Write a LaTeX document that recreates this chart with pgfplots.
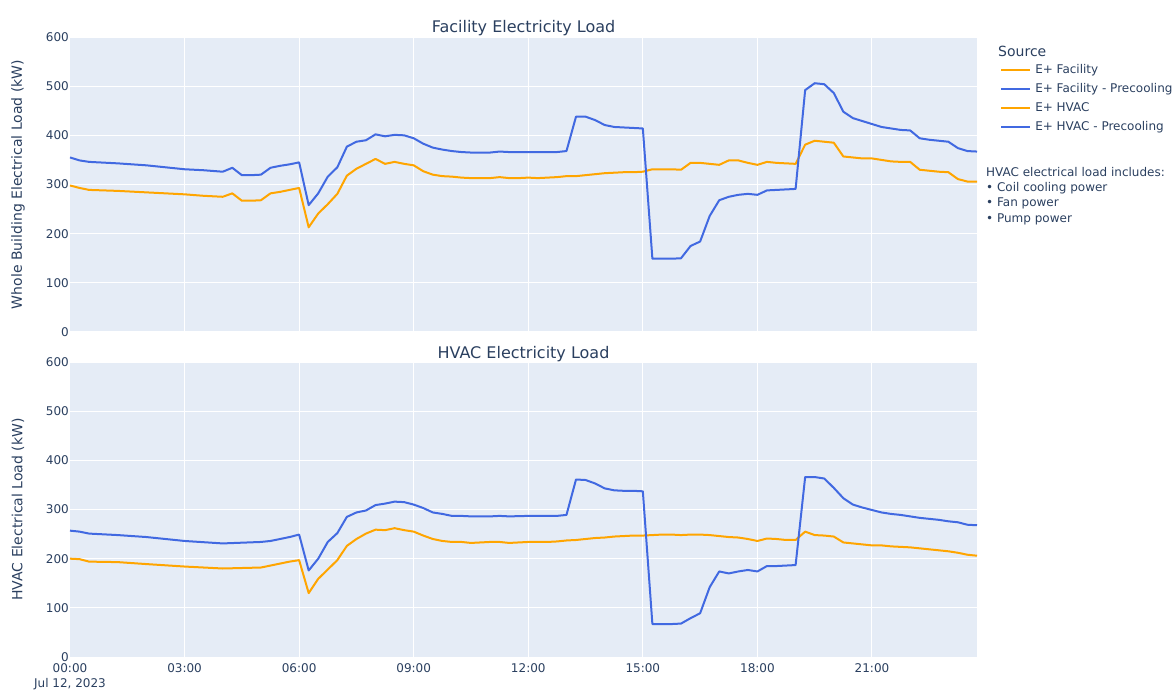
\documentclass[border=0pt]{standalone}
\usepackage{fontspec}
\setmainfont{DejaVu Sans}
\usepackage{pgfplots}
\pgfplotsset{compat=1.18}
\definecolor{bgc}{HTML}{E5ECF6}
\definecolor{txt}{HTML}{2A3F5F}
\definecolor{cor}{HTML}{FFA500}
\definecolor{cbl}{HTML}{4169E1}

\pgfplotstableread{
t v
0 298
0.25 293
0.5 289
1.25 287
2 284
3 280
3.5 277
4 275
4.25 282
4.5 267
4.75 267
5 268
5.25 282
5.5 285
5.75 289
6 293
6.25 213
6.5 241
6.75 260
7 281
7.25 318
7.5 332
7.75 342
8 352
8.25 342
8.5 346
8.75 342
9 339
9.25 327
9.5 320
9.75 317
10 316
10.25 314
10.5 313
10.75 313
11 313
11.25 315
11.5 313
11.75 313
12 314
12.25 313
12.5 314
12.75 315
13 317
13.25 317
13.5 319
13.75 321
14 323
14.25 324
14.5 325
14.75 325
15 326
15.25 331
15.5 331
15.75 331
16 330
16.25 344
16.5 344
16.75 342
17 340
17.25 349
17.5 349
17.75 344
18 340
18.25 346
18.5 344
18.75 343
19 342
19.25 381
19.5 389
19.75 387
20 385
20.25 357
20.5 355
20.75 353
21 353
21.25 350
21.5 347
21.75 346
22 346
22.25 330
22.5 328
22.75 326
23 325
23.25 311
23.5 306
23.75 306
}\facility

\pgfplotstableread{
t v
0 355
0.25 349
0.5 346
1.25 343
2 339
3 331
3.5 329
4 326
4.25 334
4.5 319
4.75 319
5 320
5.25 334
5.5 338
5.75 341
6 345
6.25 258
6.5 282
6.75 316
7 335
7.25 377
7.5 387
7.75 390
8 402
8.25 398
8.5 401
8.75 400
9 394
9.25 383
9.5 375
9.75 371
10 368
10.25 366
10.5 365
11 365
11.25 367
11.5 366
12 366
12.5 366
12.75 366
13 368
13.25 438
13.5 438
13.75 431
14 421
14.25 417
14.5 416
14.75 415
15 414
15.25 149
15.5 149
15.75 149
16 150
16.25 175
16.5 184
16.75 236
17 268
17.25 275
17.5 279
17.75 281
18 279
18.25 288
18.5 289
18.75 290
19 291
19.25 492
19.5 506
19.75 504
20 486
20.25 448
20.5 435
20.75 429
21 423
21.25 417
21.5 414
21.75 411
22 410
22.25 394
22.5 391
22.75 389
23 387
23.25 374
23.5 368
23.75 367
}\facilitypre

\pgfplotstableread{
t v
0 200
0.25 199
0.5 194
1.25 193
2 189
3 184
4 180
4.5 181
5 182
5.25 186
5.5 190
5.75 194
6 197
6.25 130
6.5 159
6.75 178
7 197
7.25 226
7.5 240
7.75 251
8 259
8.25 258
8.5 262
8.75 258
9 255
9.25 247
9.5 240
9.75 236
10 234
10.25 234
10.5 232
10.75 233
11 234
11.25 234
11.5 232
11.75 233
12 234
12.5 234
12.75 235
13 237
13.25 238
13.5 240
13.75 242
14 243
14.25 245
14.5 246
14.75 247
15 247
15.25 248
15.5 249
15.75 249
16 248
16.25 249
16.5 249
16.75 248
17 246
17.25 244
17.5 243
17.75 240
18 236
18.25 241
18.5 240
18.75 238
19 238
19.25 255
19.5 248
19.75 247
20 245
20.25 233
20.5 231
20.75 229
21 227
21.25 227
21.5 225
21.75 224
22 223
22.25 221
22.5 219
22.75 217
23 215
23.25 212
23.5 208
23.75 206
}\hvac

\pgfplotstableread{
t v
0 257
0.25 255
0.5 251
1.25 248
2 244
3 236
4 231
5 234
5.25 236
5.5 240
5.75 244
6 249
6.25 176
6.5 200
6.75 234
7 252
7.25 285
7.5 294
7.75 298
8 309
8.25 312
8.5 316
8.75 315
9 310
9.25 303
9.5 294
9.75 291
10 287
10.25 287
10.5 286
11 286
11.25 287
11.5 286
12 287
12.5 287
12.75 287
13 289
13.25 361
13.5 360
13.75 353
14 343
14.25 339
14.5 338
14.75 338
15 337
15.25 67
15.5 67
15.75 67
16 68
16.25 79
16.5 89
16.75 142
17 174
17.25 170
17.5 174
17.75 177
18 174
18.25 185
18.5 185
18.75 186
19 187
19.25 366
19.5 366
19.75 363
20 344
20.25 323
20.5 310
20.75 304
21 299
21.25 294
21.5 291
21.75 289
22 286
22.25 283
22.5 281
22.75 279
23 276
23.25 274
23.5 269
23.75 268
}\hvacpre

\pgfplotsset{plotlyax/.style={
  scale only axis, width=907pt, height=295pt,
  xmin=0, xmax=23.75, ymin=0, ymax=600,
  axis background/.style={fill=bgc},
  axis line style={draw=none},
  major tick length=0pt,
  grid=major, major grid style={white, line width=1pt},
  xtick={0,3,...,21}, ytick={0,100,...,600},
  /pgf/number format/assume math mode=true,
  tick label style={font=\fontsize{12}{15}\selectfont, text=txt},
  yticklabel style={inner sep=1pt},
  xticklabel style={yshift=-3pt},
  title style={at={(axis description cs:0.5,1)}, anchor=center, font=\fontsize{16}{19}\selectfont, text=txt},
  ylabel style={at={(axis description cs:-0.0573,0.5)}, anchor=center, font=\fontsize{14}{17}\selectfont, text=txt},
  clip mode=individual,
  legend image code/.code={\draw[#1, line width=2pt] (0pt,0pt) -- (29pt,0pt);},
}}

\begin{document}
\begin{tikzpicture}
\begin{axis}[plotlyax, at={(70pt,359pt)}, anchor=south west,
  xticklabels={},
  title={Facility Electricity Load}, title style={yshift=3pt},
  ylabel={Whole Building Electrical Load (kW)},
  legend style={at={(axis description cs:1.0254,0.915)}, anchor=north west, draw=none, fill=none, inner sep=0pt, row sep=3pt, column sep=2pt, font=\fontsize{12}{14}\selectfont, text=txt, nodes={inner sep=2pt, text height=9pt, text depth=3pt}},
  legend cell align=left]
\addplot[cor, line width=2pt, line join=round] table[x=t,y=v] {\facility};
\addlegendentry{E+ Facility}
\addplot[cbl, line width=2pt, line join=round] table[x=t,y=v] {\facilitypre};
\addlegendentry{E+ Facility - Precooling}
\addlegendimage{cor}
\addlegendentry{E+ HVAC}
\addlegendimage{cbl}
\addlegendentry{E+ HVAC - Precooling}
\node[anchor=base west, inner sep=0pt, text=txt, font=\fontsize{14}{17}\selectfont] at (axis description cs:1.0232,0.935) {Source};
\node[anchor=base west, inner sep=0pt, text=txt, font=\fontsize{12}{15}\selectfont] at (axis description cs:1.0099,0.527) {HVAC electrical load includes:};
\node[anchor=base west, inner sep=0pt, text=txt, font=\fontsize{12}{15}\selectfont] at (axis description cs:1.0099,0.475) {• Coil cooling power};
\node[anchor=base west, inner sep=0pt, text=txt, font=\fontsize{12}{15}\selectfont] at (axis description cs:1.0099,0.424) {• Fan power};
\node[anchor=base west, inner sep=0pt, text=txt, font=\fontsize{12}{15}\selectfont] at (axis description cs:1.0099,0.372) {• Pump power};
\end{axis}
\begin{axis}[plotlyax, at={(70pt,34pt)}, anchor=south west,
  xticklabels={{00:00\\Jul 12, 2023},03:00,06:00,09:00,12:00,15:00,18:00,21:00},
  xticklabel style={align=center},
  title={HVAC Electricity Load}, title style={yshift=2pt},
  ylabel={HVAC Electrical Load (kW)}]
\addplot[cor, line width=2pt, line join=round] table[x=t,y=v] {\hvac};
\addplot[cbl, line width=2pt, line join=round] table[x=t,y=v] {\hvacpre};
\end{axis}
\pgfresetboundingbox
\path[use as bounding box] (0,0) rectangle (1174pt,691pt);
\end{tikzpicture}
\end{document}
